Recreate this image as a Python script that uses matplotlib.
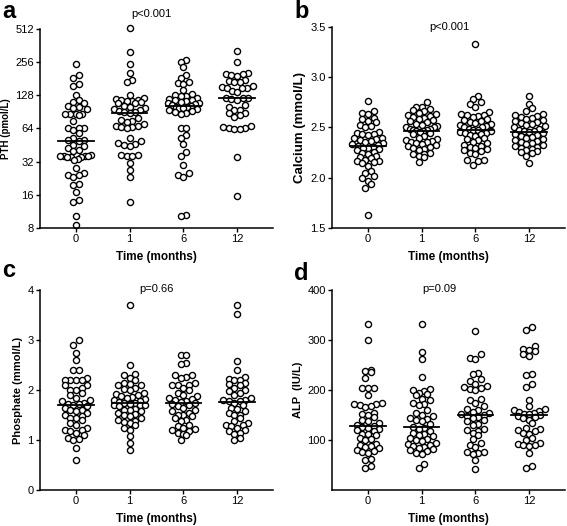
import numpy as np
import matplotlib
matplotlib.use('Agg')
import matplotlib.pyplot as plt

plt.rcParams['font.family'] = ['Liberation Sans', 'DejaVu Sans']

times = ['0', '1', '6', '12']

# PTH (pmol/L)
pth_0 = [247, 195, 184, 161, 157, 128, 116, 112, 108, 102, 100, 98, 96, 86, 86, 86, 86, 84, 75, 65,
         65, 64, 62, 58, 52, 50, 50, 49, 45, 44, 43, 41, 40, 37, 36, 36, 36, 36, 35, 35, 35, 34, 33,
         28, 25, 24, 24, 23, 20, 19.5, 17, 14.5, 13.8, 10.3, 8.6]
pth_1 = [522, 315, 246, 204, 178, 169, 128, 122, 118, 116, 115, 114, 113, 112, 110, 108, 102, 100,
         98, 96, 95, 92, 90, 90, 88, 80, 76, 75, 74, 70, 68, 67, 66, 66, 65, 52, 49, 47, 46, 45, 44,
         37, 37, 36, 36, 31, 27, 23, 13.8]
pth_6 = [269, 259, 229, 197, 183, 168, 165, 162, 143, 131, 128, 127, 126, 121, 118, 116, 115, 113,
         111, 110, 108, 106, 104, 103, 101, 100, 99, 98, 96, 94, 92, 90, 88, 86, 64, 64, 56, 52, 46,
         39, 36, 30, 25, 24, 23, 10.6, 10.2]
pth_12 = [320, 256, 205, 200, 200, 195, 190, 175, 172, 170, 168, 155, 152, 150, 150, 148, 140, 138,
          122, 120, 120, 118, 116, 105, 100, 94, 94, 88, 88, 85, 82, 67, 66, 65, 64, 63, 63, 35, 15.6]

# Calcium (mmol/L)
ca_0 = [2.76, 2.66, 2.64, 2.63, 2.59, 2.58, 2.56, 2.55, 2.52, 2.51, 2.50, 2.46, 2.45, 2.44, 2.44,
        2.43, 2.40, 2.40, 2.39, 2.38, 2.37, 2.36, 2.35, 2.34, 2.33, 2.32, 2.31, 2.30, 2.30, 2.29,
        2.28, 2.26, 2.25, 2.24, 2.22, 2.21, 2.20, 2.18, 2.17, 2.17, 2.16, 2.15, 2.12, 2.07, 2.05,
        2.02, 2.00, 1.97, 1.94, 1.90, 1.63]
ca_1 = [2.75, 2.70, 2.70, 2.68, 2.67, 2.66, 2.64, 2.63, 2.62, 2.61, 2.60, 2.59, 2.58, 2.57, 2.56,
        2.55, 2.53, 2.52, 2.51, 2.50, 2.50, 2.49, 2.49, 2.48, 2.48, 2.47, 2.47, 2.46, 2.45, 2.44,
        2.42, 2.40, 2.39, 2.38, 2.37, 2.36, 2.36, 2.35, 2.34, 2.33, 2.32, 2.31, 2.30, 2.29, 2.28,
        2.25, 2.24, 2.24, 2.22, 2.21, 2.16]
ca_6 = [3.33, 2.81, 2.78, 2.75, 2.73, 2.70, 2.65, 2.63, 2.62, 2.62, 2.61, 2.60, 2.58, 2.57, 2.56,
        2.55, 2.54, 2.53, 2.52, 2.51, 2.50, 2.50, 2.49, 2.48, 2.48, 2.47, 2.46, 2.45, 2.45, 2.44,
        2.43, 2.42, 2.40, 2.39, 2.38, 2.36, 2.35, 2.33, 2.32, 2.31, 2.30, 2.29, 2.28, 2.27, 2.25,
        2.24, 2.18, 2.18, 2.17, 2.13]
ca_12 = [2.81, 2.73, 2.69, 2.66, 2.63, 2.62, 2.61, 2.60, 2.59, 2.58, 2.57, 2.56, 2.55, 2.54, 2.53,
         2.52, 2.51, 2.50, 2.49, 2.48, 2.47, 2.47, 2.46, 2.45, 2.44, 2.43, 2.42, 2.41, 2.40, 2.39,
         2.38, 2.37, 2.36, 2.35, 2.34, 2.33, 2.32, 2.31, 2.30, 2.29, 2.28, 2.27, 2.26, 2.25, 2.22,
         2.15]

# Phosphate (mmol/L)
po_0 = [3.0, 2.9, 2.75, 2.6, 2.4, 2.4, 2.25, 2.2, 2.2, 2.2, 2.2, 2.1, 2.1, 2.05, 2.0, 2.0, 1.95,
        1.9, 1.85, 1.8, 1.78, 1.75, 1.73, 1.72, 1.7, 1.68, 1.65, 1.6, 1.6, 1.58, 1.55, 1.5, 1.48,
        1.45, 1.45, 1.4, 1.35, 1.3, 1.25, 1.2, 1.2, 1.18, 1.15, 1.1, 1.05, 1.02, 1.0, 0.85, 0.6]
po_1 = [3.7, 2.5, 2.32, 2.3, 2.25, 2.2, 2.15, 2.12, 2.1, 2.1, 2.05, 2.03, 2.0, 1.95, 1.92, 1.9,
        1.88, 1.87, 1.85, 1.83, 1.8, 1.78, 1.76, 1.75, 1.74, 1.72, 1.7, 1.7, 1.7, 1.68, 1.62, 1.6,
        1.6, 1.58, 1.55, 1.52, 1.5, 1.48, 1.45, 1.4, 1.38, 1.37, 1.35, 1.3, 1.25, 1.2, 1.08, 0.95,
        0.8]
po_6 = [2.7, 2.7, 2.55, 2.52, 2.3, 2.3, 2.27, 2.25, 2.15, 2.1, 2.1, 2.1, 2.05, 2.0, 1.95, 1.9,
        1.88, 1.85, 1.82, 1.8, 1.78, 1.77, 1.75, 1.72, 1.7, 1.68, 1.65, 1.6, 1.58, 1.55, 1.5, 1.5,
        1.48, 1.45, 1.4, 1.38, 1.3, 1.28, 1.25, 1.22, 1.2, 1.18, 1.15, 1.12, 1.1, 1.0]
po_12 = [3.7, 3.52, 2.58, 2.4, 2.27, 2.22, 2.2, 2.2, 2.15, 2.12, 2.1, 2.05, 2.0, 1.98, 1.95, 1.9,
         1.85, 1.8, 1.8, 1.78, 1.78, 1.75, 1.7, 1.65, 1.62, 1.58, 1.55, 1.5, 1.5, 1.45, 1.38, 1.35,
         1.3, 1.3, 1.28, 1.25, 1.2, 1.18, 1.15, 1.12, 1.05, 1.0]

# ALP (IU/L)
alp_0 = [333, 300, 240, 238, 236, 225, 205, 205, 204, 190, 175, 173, 172, 170, 168, 167, 155, 152,
         150, 147, 140, 138, 135, 130, 128, 126, 125, 123, 120, 118, 113, 112, 110, 105, 102, 100,
         92, 90, 88, 87, 85, 80, 78, 77, 75, 62, 60, 48, 45]
alp_1 = [333, 276, 262, 227, 203, 200, 198, 195, 192, 190, 182, 180, 175, 172, 170, 160, 155, 150,
         148, 145, 143, 140, 138, 132, 126, 125, 122, 118, 115, 112, 110, 108, 105, 103, 100, 98,
         95, 92, 90, 88, 87, 85, 83, 80, 78, 75, 72, 53, 45]
alp_6 = [318, 272, 265, 262, 235, 232, 222, 218, 212, 208, 206, 204, 203, 200, 182, 180, 175, 168,
         162, 160, 157, 155, 152, 150, 148, 146, 145, 140, 138, 132, 130, 122, 120, 118, 115, 110,
         103, 95, 90, 86, 77, 76, 75, 73, 60, 42]
alp_12 = [327, 320, 288, 282, 280, 278, 273, 268, 232, 230, 212, 206, 180, 168, 163, 160, 158, 156,
          155, 153, 152, 150, 148, 147, 145, 140, 135, 125, 122, 120, 118, 115, 112, 105, 100, 95,
          93, 90, 90, 88, 75, 48, 45]

W, H = 567, 526
fig = plt.figure(figsize=(W / 100, H / 100), dpi=100)


def box(left, top, right, bottom):
    # pixel box -> figure fraction
    return [left / W, 1 - bottom / H, (right - left) / W, (bottom - top) / H]


def spread(ax, x0, values, diam=5.6, half=15.5):
    """раскладка точек рядами (как в GraphPad), ширина ряда ограничена"""
    pts = ax.transData.transform(np.column_stack([np.full(len(values), x0), values]))
    ys = pts[:, 1]
    rows = []
    for i in np.argsort(ys, kind='stable'):
        if rows and ys[i] - ys[rows[-1][0]] < diam:
            rows[-1].append(i)
        else:
            rows.append([i])
    dx = np.zeros(len(values))
    for row in rows:
        n = len(row)
        step = diam if n == 1 else min(diam, 2 * half / (n - 1))
        slots = sorted(np.arange(n) - (n - 1) / 2, key=lambda s: (abs(s), s))
        for idx, s in zip(row, slots):
            dx[idx] = s * step
    back = ax.transData.inverted().transform(np.column_stack([pts[:, 0] + dx, ys]))
    return back[:, 0]


def panel(pos, groups, ylabel, ylab_size, ylim, yticks, yticklabels, log=False):
    ax = fig.add_axes(box(*pos))
    if log:
        ax.set_yscale('log', base=2)
    ax.set_xlim(-0.67, 3.67)
    ax.set_ylim(*ylim)
    ax.set_yticks(yticks)
    ax.set_yticklabels(yticklabels)
    ax.minorticks_off()
    ax.set_xticks(range(4))
    ax.set_xticklabels(times)
    for i, vals in enumerate(groups):
        xs = spread(ax, i, vals)
        ax.plot(xs, vals, 'o', ms=4.4, mfc='white', mec='black', mew=1.0, ls='none',
                clip_on=False, zorder=2)
        m = np.median(vals)
        ax.plot([i - 0.33, i + 0.33], [m, m], color='black', lw=1.3, zorder=3)
    for s in ['top', 'right']:
        ax.spines[s].set_visible(False)
    for s in ['left', 'bottom']:
        ax.spines[s].set_linewidth(1.1)
    ax.tick_params(axis='both', labelsize=8, width=1.0, length=3, pad=1.5)
    ax.set_xlabel('Time (months)', fontsize=8.5, fontweight='bold', labelpad=5)
    ax.set_ylabel(ylabel, fontsize=ylab_size, fontweight='bold', labelpad=3)
    return ax


panel((40, 29, 273, 228), [pth_0, pth_1, pth_6, pth_12], 'PTH (pmol/L)', 7,
      (8, 512), [8, 16, 32, 64, 128, 256, 512], ['8', '16', '32', '64', '128', '256', '512'], log=True)
panel((332, 27, 565, 228), [ca_0, ca_1, ca_6, ca_12], 'Calcium (mmol/L)', 9.5,
      (1.5, 3.5), [1.5, 2.0, 2.5, 3.0, 3.5], ['1.5', '2.0', '2.5', '3.0', '3.5'])
panel((40, 290, 273, 490), [po_0, po_1, po_6, po_12], 'Phosphate (mmol/L)', 8,
      (0, 4), [0, 1, 2, 3, 4], ['0', '1', '2', '3', '4'])
panel((332, 290, 565, 490), [alp_0, alp_1, alp_6, alp_12], 'ALP  (IU/L)', 8,
      (0, 400), [100, 200, 300, 400], ['100', '200', '300', '400'])

# p-values and panel letters
for x, y, t in [(151, 14, 'p<0.001'), (449, 27, 'p<0.001'), (156, 289, 'p=0.66'), (439, 289, 'p=0.09')]:
    fig.text(x / W, 1 - y / H, t, fontsize=8, ha='center', va='center')
for x, y, t in [(2, 18, 'a'), (294, 18, 'b'), (2, 277, 'c'), (294, 280, 'd')]:
    fig.text(x / W, 1 - y / H, t, fontsize=17, fontweight='bold', ha='left', va='baseline')

fig.savefig('out.png', dpi=100)
